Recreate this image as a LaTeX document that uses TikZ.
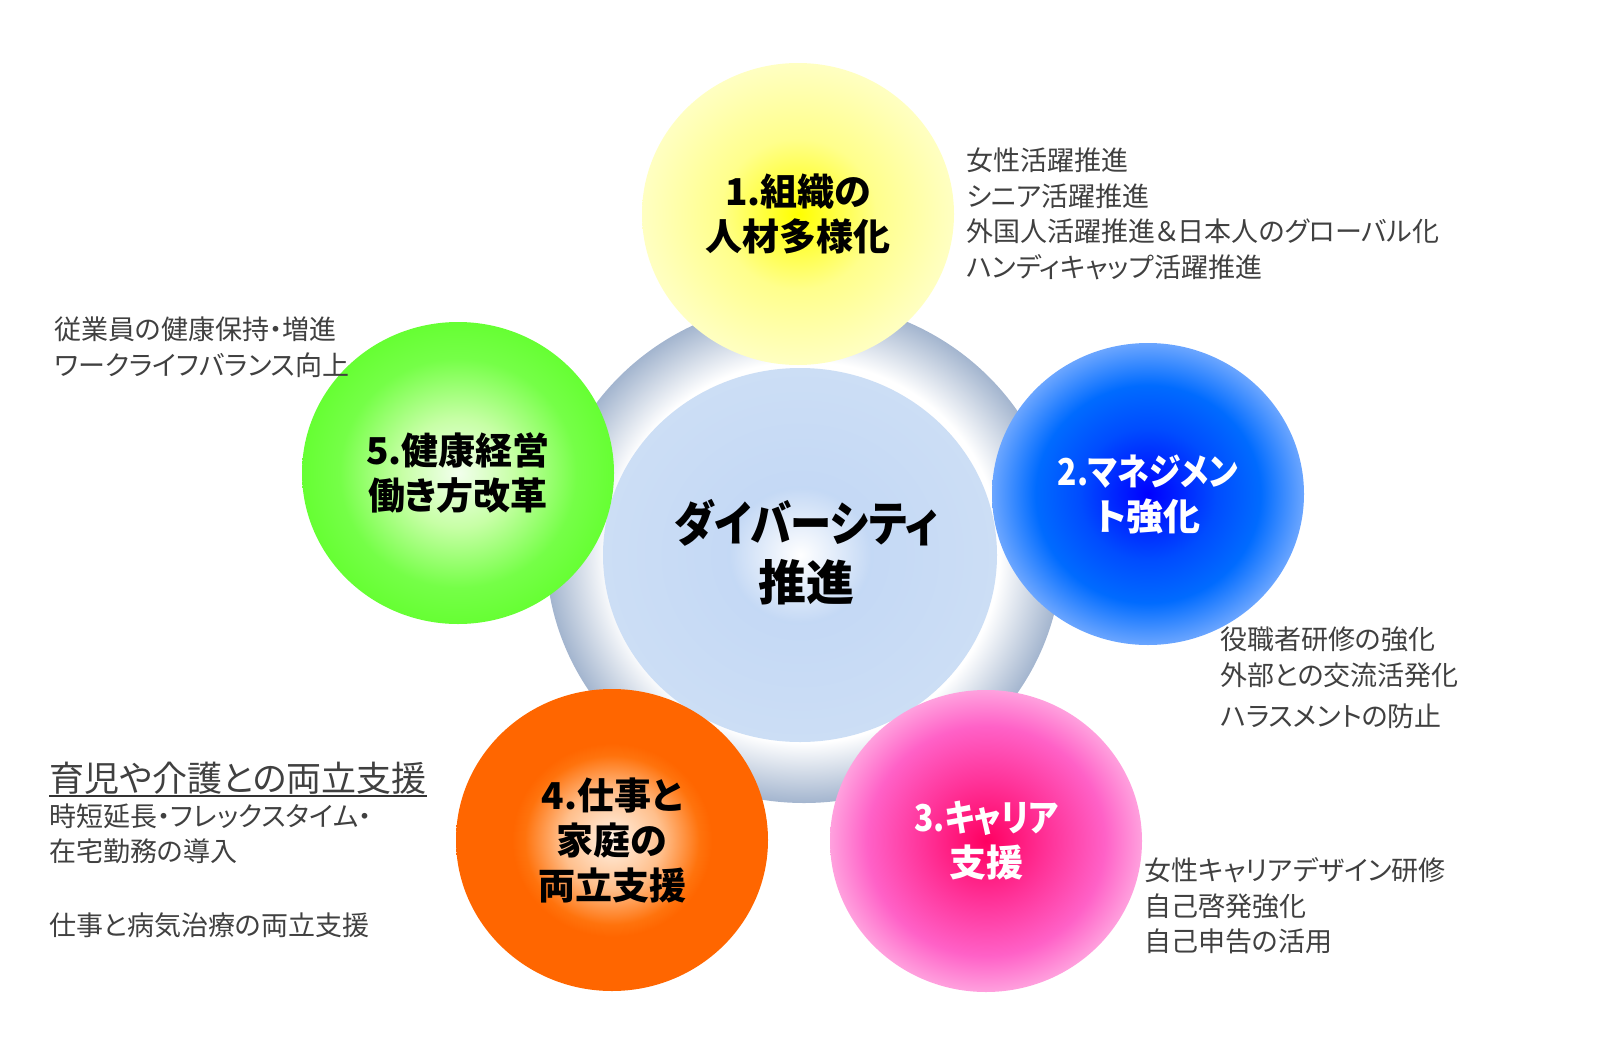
\documentclass[tikz,border=0pt]{standalone}
\usepackage{fontspec}
\usetikzlibrary{shapes.geometric}

\newfontfamily\jpfont{Noto Sans CJK JP}[RawFeature=+palt]
\newfontfamily\jpnarrow{Noto Sans CJK JP}[RawFeature=+palt, FakeStretch=0.86]

% Radial shadings (25bp = rim of the ellipse)
\pgfdeclareradialshading{ringshade}{\pgfpoint{0bp}{0bp}}{rgb(0bp)=(1,1,1); rgb(19bp)=(1,1,1); rgb(25bp)=(0.64,0.71,0.81); rgb(50bp)=(0.64,0.71,0.81)}
\pgfdeclareradialshading{hubshade}{\pgfpoint{0bp}{0bp}}{rgb(0bp)=(1,1,1); rgb(9bp)=(0.77,0.85,0.96); rgb(25bp)=(0.80,0.87,0.96); rgb(50bp)=(0.80,0.87,0.96)}
\pgfdeclareradialshading{yellowball}{\pgfpoint{0bp}{0bp}}{rgb(0bp)=(1,1,0); rgb(12.5bp)=(1,1,0.55); rgb(25bp)=(1,1,0.76); rgb(50bp)=(1,1,0.76)}
\pgfdeclareradialshading{blueball}{\pgfpoint{0bp}{0bp}}{rgb(0bp)=(0,0,1); rgb(11bp)=(0,0.3,1); rgb(18bp)=(0,0.42,1); rgb(25bp)=(0.42,0.65,1); rgb(50bp)=(0.42,0.65,1)}
\pgfdeclareradialshading{pinkball}{\pgfpoint{0bp}{0bp}}{rgb(0bp)=(1,0,0.38); rgb(10bp)=(1,0.2,0.6); rgb(19bp)=(1,0.38,0.78); rgb(25bp)=(1,0.63,0.87); rgb(50bp)=(1,0.63,0.87)}
\pgfdeclareradialshading{orangeball}{\pgfpoint{0bp}{0bp}}{rgb(0bp)=(1,0.95,0.9); rgb(8bp)=(1,0.75,0.55); rgb(14bp)=(1,0.45,0.05); rgb(16bp)=(1,0.4,0); rgb(50bp)=(1,0.4,0)}
\pgfdeclareradialshading{greenball}{\pgfpoint{0bp}{0bp}}{rgb(0bp)=(0.95,1,0.93); rgb(9bp)=(0.78,1,0.65); rgb(19bp)=(0.46,1,0.28); rgb(25bp)=(0.4,1,0.2); rgb(50bp)=(0.4,1,0.2)}

\begin{document}
\begin{tikzpicture}[x=0.5pt, y=-0.5pt,
    ball/.style={ellipse, shade, minimum width=156pt, minimum height=151pt,
      inner sep=0pt, align=center,
      font=\jpfont\bfseries\fontsize{18.5}{22.5}\selectfont},
    note/.style={anchor=west, inner sep=0pt, align=left, text=black!75,
      font=\jpfont\fontsize{13.5}{17.75}\selectfont}]
  \useasboundingbox (0,0) rectangle (1601,1044);

  % Centre
  \node[ellipse, shade, shading=ringshade, minimum width=258pt, minimum height=251pt] (ring) at (804,552) {};
  \node[ellipse, shade, shading=hubshade, minimum width=197pt, minimum height=187pt] (hub) at (800,555) {};
  \node[align=center, font=\jpfont\bfseries\fontsize{24}{29.5}\selectfont] (hublabel) at (806,552)
    {{\jpnarrow\bfseries ダイバーシティ}\\推進};

  % Five themes
  \node[ball, shading=yellowball] (talent) at (798,214) {1.組織の\\人材多様化};
  \node[ball, shading=blueball, text=white] (manage) at (1148,494) {{\jpnarrow\bfseries 2.マネジメン}\\ト強化};
  \node[ball, shading=pinkball, text=white] (career) at (986,841) {{\jpnarrow\bfseries 3.キャリア}\\支援};
  \node[ball, shading=orangeball] (family) at (612,840) {4.仕事と\\家庭の\\両立支援};
  \node[ball, shading=greenball] (health) at (458,473) {5.健康経営\\働き方改革};

  % Descriptions
  \node[note] (talentnote) at (966,214) {女性活躍推進\\シニア活躍推進\\外国人活躍推進＆日本人のグローバル化\\ハンディキャップ活躍推進};
  \node[note] (managenote) at (1220,678) {役職者研修の強化\\外部との交流活発化\\[3pt]ハラスメントの防止};
  \node[note] (careernote) at (1144,906) {女性キャリアデザイン研修\\自己啓発強化\\自己申告の活用};
  \node[note, font=\jpfont\fontsize{17.5}{21}\selectfont] (carenote) at (49,778) {育児や介護との両立支援};
  \node[note] (worknote) at (49,834) {時短延長・フレックスタイム・\\在宅勤務の導入};
  \node[note] (illnote) at (49,925) {仕事と病気治療の両立支援};
  \node[note] (healthnote) at (54,347) {従業員の健康保持・増進\\ワークライフバランス向上};

  \draw[line width=1pt, black!80] ([yshift=-2.5pt]carenote.base west) -- ([yshift=-2.5pt]carenote.base east);
\end{tikzpicture}
\end{document}
